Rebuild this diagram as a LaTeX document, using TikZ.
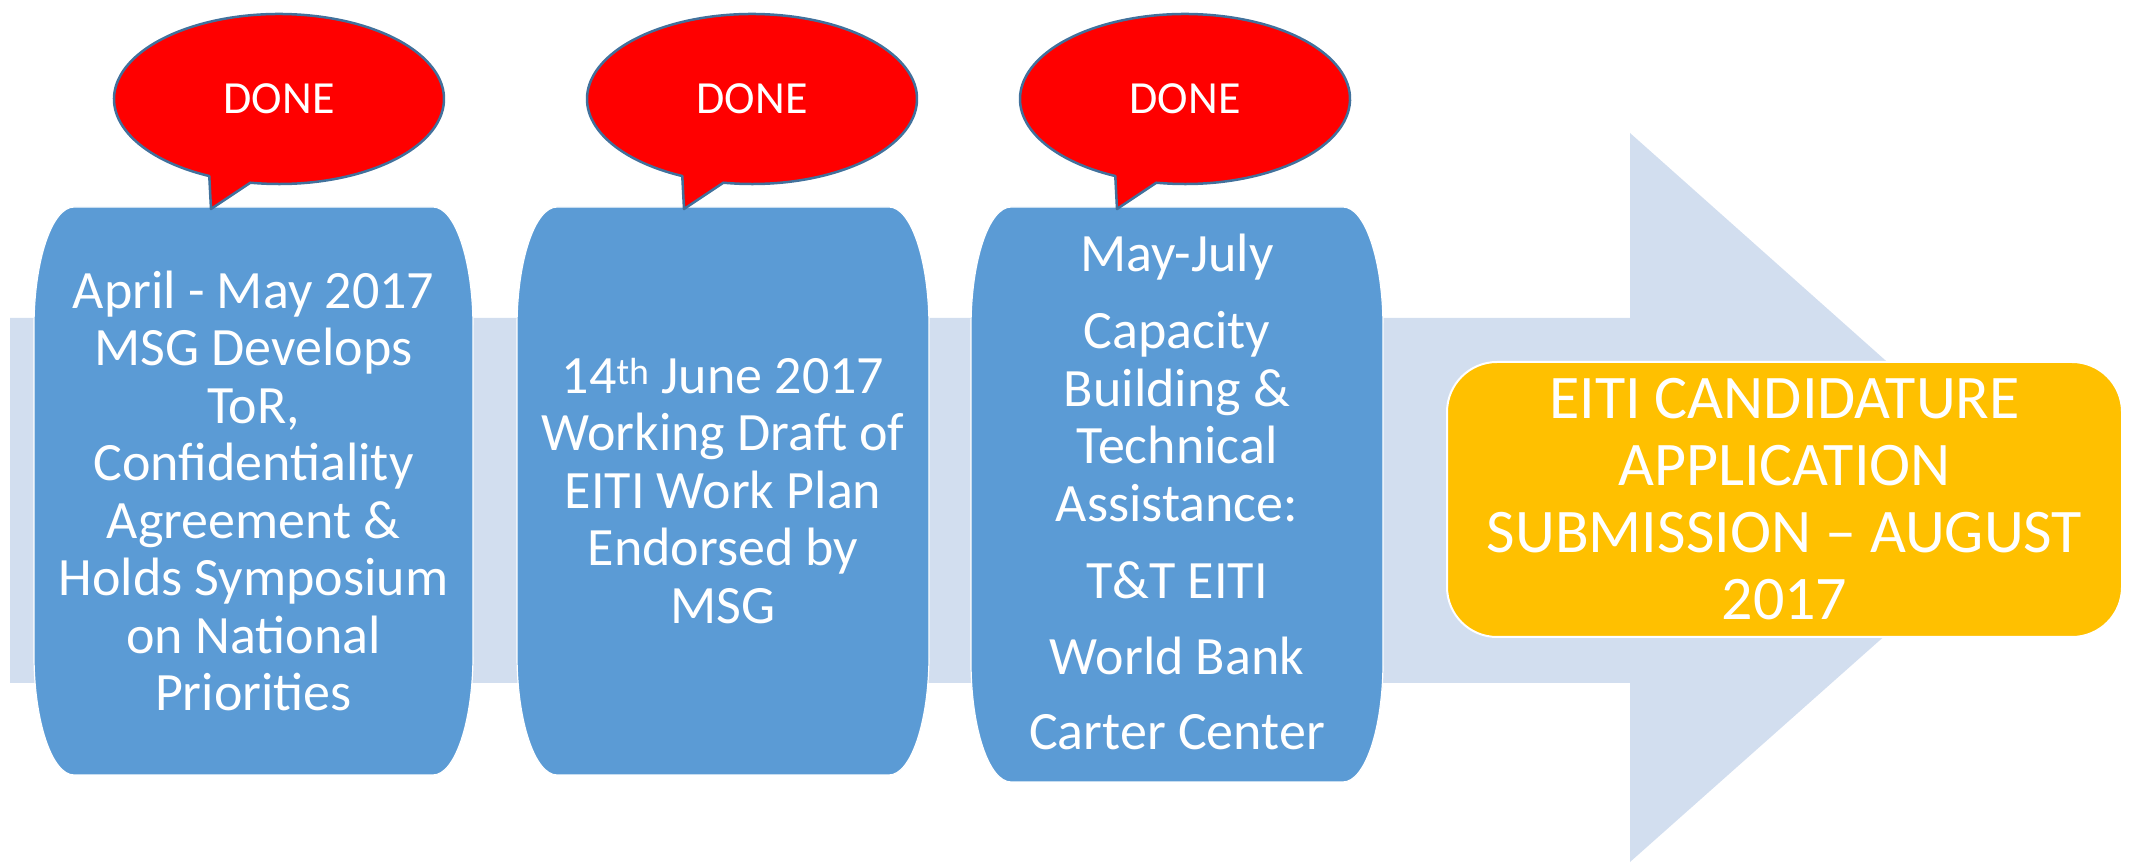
\documentclass[tikz,border=0pt]{standalone}
\usepackage{fontspec}
\setmainfont{Carlito}
\usetikzlibrary{calc}
\usetikzlibrary{shapes}
\definecolor{stepblue}{HTML}{5B9BD5}
\definecolor{shaftblue}{HTML}{D2DEEF}
\definecolor{goalgold}{HTML}{FFC000}
\definecolor{callouted}{HTML}{41719C}
% block with tall oval corners: name, x1, y1, x2, y2
\newcommand{\stepblock}[5]{%
  \draw[block] (#2+40,#5) -- (#4-40,#5)
    arc[start angle=90,end angle=0,x radius=40pt,y radius=120pt] -- (#4,#3+120)
    arc[start angle=0,end angle=-90,x radius=40pt,y radius=120pt] -- (#2+40,#3)
    arc[start angle=270,end angle=180,x radius=40pt,y radius=120pt] -- (#2,#5-120)
    arc[start angle=180,end angle=90,x radius=40pt,y radius=120pt] -- cycle;
  \coordinate (#1) at ({(#2+#4)/2},{(#3+#5)/2});
}
% speech bubble: name, centre x
\newcommand{\donebubble}[2]{%
  \coordinate (#1) at (#2,763);
  \draw[bubble] ($(#1)+(260:165pt and 85pt)$)
    arc[start angle=260,end angle=605,x radius=165pt,y radius=85pt]
    -- ($(#1)+(-68,-110)$) -- cycle;
  \node[donetext] (#1-txt) at (#1) {DONE};
}
\tikzset{
  block/.style={fill=stepblue, draw=white, line width=1.2pt},
  bubble/.style={fill=red, draw=callouted, line width=2.5pt, line join=round},
  donetext/.style={text=white, font=\fontsize{46}{52}\selectfont},
  steptext/.style={text=white, align=center, font=\fontsize{54}{57.5}\selectfont},
  goal/.style={fill=goalgold, draw=white, line width=2pt, rounded corners=50pt,
    minimum width=675pt, minimum height=275pt, text=white, align=center,
    font=\fontsize{62}{67}\selectfont}
}
\begin{document}
\begin{tikzpicture}[x=1pt,y=1pt]
\useasboundingbox (0,0) rectangle (2133,862);
% the big arrow behind
\fill[shaftblue] (10,179) -- (1630,179) -- (1630,0) -- (2040,364)
  -- (1630,729) -- (1630,544) -- (10,544) -- cycle;
% the three steps
\stepblock{b1}{34}{87}{473}{655}
\stepblock{b2}{517}{87}{929}{655}
\stepblock{b3}{971}{80}{1383}{655}
\node[steptext] (april) at (b1) {April - May 2017\\MSG Develops\\ToR,\\Confidentiality\\Agreement \&\\Holds Symposium\\on National\\Priorities};
\node[steptext] (june) at (b2) {14\textsuperscript{th} June 2017\\Working Draft of\\EITI Work Plan\\Endorsed by\\MSG};
\node[steptext] (july) at (1177,370) {May-July\\[20pt]Capacity\\Building \&\\Technical\\Assistance:\\[20pt]T\&T EITI\\[18pt]World Bank\\[18pt]Carter Center};
% callouts
\donebubble{d1}{279}
\donebubble{d2}{752}
\donebubble{d3}{1185}
% goal
\node[goal] (goal) at (1784.5,362.5) {EITI CANDIDATURE\\APPLICATION\\SUBMISSION – AUGUST\\2017};
\end{tikzpicture}
\end{document}
